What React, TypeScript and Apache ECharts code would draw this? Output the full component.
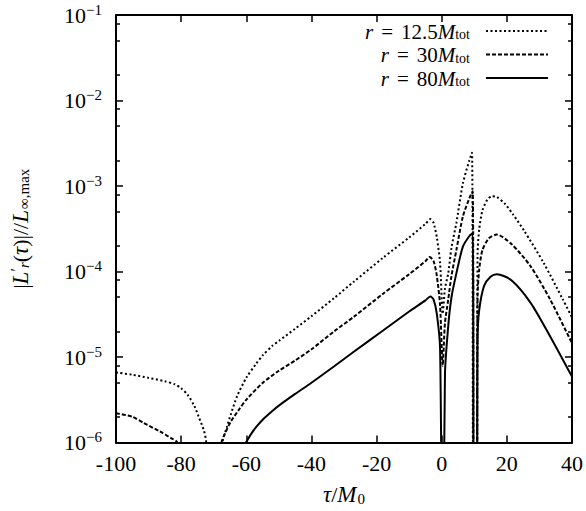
import React, { useEffect, useRef } from 'react';
import * as echarts from 'echarts';

// r = 12.5 M_tot (dotted)
const tau125 = [-100, -95, -90, -85, -82, -80, -78, -76, -74.5, -73, -72.3, -70, -67.3, -66, -64.8, -62.8, -59.9, -57, -54.9, -52, -49.9, -45, -40, -33, -27, -18, -10, -5, -3.5, -2.5, -1.5, -0.5, 0.3, 1, 2, 3, 4.5, 6.5, 8.5, 9.3, 9.8, 10.7, 11, 11.5, 12.5, 14, 15.4, 17, 19.4, 22, 25.3, 31.3, 37.2, 40];
const val125 = [6.6e-6, 6.2e-6, 5.7e-6, 5.2e-6, 4.8e-6, 4.3e-6, 3.6e-6, 2.7e-6, 1.95e-6, 1.38e-6, 1.0e-6, 1e-8, 1.0e-6, 1.5e-6, 2.1e-6, 3.5e-6, 5.8e-6, 8.3e-6, 1.05e-5, 1.35e-5, 1.55e-5, 2.14e-5, 3.0e-5, 4.9e-5, 7.6e-5, 1.45e-4, 2.5e-4, 3.6e-4, 4.1e-4, 3.7e-4, 2.5e-4, 1.26e-4, 3.2e-5, 6.3e-5, 9.5e-5, 1.9e-4, 3.7e-4, 1.07e-3, 2.0e-3, 2.45e-3, 1e-8, 1e-8, 1.6e-4, 3.1e-4, 5.2e-4, 6.9e-4, 7.6e-4, 7.4e-4, 6.2e-4, 4.6e-4, 3.0e-4, 1.26e-4, 4.7e-5, 2.9e-5];

// r = 30 M_tot (dashed)
const tau30 = [-100, -95, -91.6, -86.6, -83, -81.2, -75, -67.6, -66, -64.8, -62, -59.9, -54.9, -50, -45, -40, -33, -27, -18, -10, -5, -3.7, -2.5, -1.5, -0.5, 0.3, 1, 2, 3, 4.5, 6.5, 8.5, 9.5, 9.9, 10.7, 11, 11.5, 12.5, 14.5, 16.9, 21.4, 27.3, 33.3, 40];
const val30 = [2.2e-6, 2.0e-6, 1.7e-6, 1.35e-6, 1.12e-6, 1.0e-6, 1e-8, 1.0e-6, 1.41e-6, 1.74e-6, 2.5e-6, 3.2e-6, 5.0e-6, 6.9e-6, 9.1e-6, 1.23e-5, 2.0e-5, 2.95e-5, 5.5e-5, 9.3e-5, 1.32e-4, 1.48e-4, 1.32e-4, 8.9e-5, 4.0e-5, 7.9e-6, 2.5e-5, 4.7e-5, 8.9e-5, 1.78e-4, 4.4e-4, 7.2e-4, 8.7e-4, 1e-8, 1e-8, 5e-5, 1.05e-4, 1.78e-4, 2.45e-4, 2.7e-4, 2.1e-4, 1.15e-4, 4.7e-5, 1.45e-5];

// r = 80 M_tot (solid)
const tau80 = [-60.1, -58.5, -57, -54.9, -52, -50, -45, -40, -33, -27, -18, -10, -5, -3.5, -2.5, -1.5, -0.5, 0.3, 1, 2, 3, 4.5, 6.5, 8.5, 9.5, 9.9, 10.7, 11, 11.5, 13, 15, 16.9, 21.4, 27.3, 33.3, 40];
const val80 = [1.0e-6, 1.26e-6, 1.51e-6, 1.86e-6, 2.34e-6, 2.7e-6, 3.7e-6, 5.0e-6, 7.8e-6, 1.15e-5, 2.04e-5, 3.4e-5, 4.6e-5, 5.1e-5, 4.7e-5, 3.2e-5, 1.26e-5, 1e-8, 6.3e-6, 2.3e-5, 5.0e-5, 9.5e-5, 1.95e-4, 2.6e-4, 2.8e-4, 1e-8, 1e-8, 1.6e-5, 3.5e-5, 6.8e-5, 8.7e-5, 9.3e-5, 7.9e-5, 4.3e-5, 1.74e-5, 5.9e-6];

const legendNames = ['12.5', '30', '80'];
const minorMantissa = [2, 5, 8];
const decades = [-6, -5, -4, -3, -2];

const FONT = 'Liberation Serif';

const App: React.FC = () => {
  const chartRef = useRef<HTMLDivElement>(null);

  useEffect(() => {
    document.body.style.margin = '0';
    const chart = echarts.init(chartRef.current!, null, { renderer: 'svg' });

    const pairs = (t: number[], v: number[]) => t.map((x, i) => [x, v[i]]);
    const minorLogs: number[] = [];
    decades.forEach((d) => minorMantissa.forEach((m) => minorLogs.push(d + Math.log10(m))));

    const txt = {
      n: { fontFamily: FONT, fontSize: 22, lineHeight: 20, color: '#000' },
      i: { fontFamily: FONT, fontSize: 23, lineHeight: 20, fontStyle: 'italic', color: '#000' },
      sub: { fontFamily: FONT, fontSize: 15, lineHeight: 10, color: '#000', padding: [8, 0, 0, 1] },
      subi: { fontFamily: FONT, fontSize: 15, lineHeight: 10, fontStyle: 'italic', color: '#000', padding: [8, 0, 0, 0] },
      sup: { fontFamily: FONT, fontSize: 16, lineHeight: 10, color: '#000', padding: [0, 0, 8, 0] },
    };
    // legend text, a little smaller so the rows do not touch
    const legTxt = {
      n: { fontFamily: FONT, fontSize: 21, lineHeight: 18, color: '#000' },
      eq: { fontFamily: FONT, fontSize: 21, lineHeight: 18, color: '#000', padding: [0, 8, 0, 8] },
      i: { fontFamily: FONT, fontSize: 21, lineHeight: 18, fontStyle: 'italic', color: '#000' },
      sub: { fontFamily: FONT, fontSize: 14, lineHeight: 10, color: '#000', padding: [6, 0, 0, 0] },
    };

    const tickStyle = { color: '#000', width: 1.5 };
    const lineStyles = [
      { type: [2, 2.5], width: 2 },
      { type: [4, 2], width: 2 },
      { type: 'solid', width: 2 },
    ];
    const legendDash = [[2, 2.5], [4, 2], []];
    const legendY = [31, 54.5, 78];

    const option = {
      animation: false,
      grid: { left: 105, right: 10, top: 15, bottom: 68 },
      xAxis: [
        {
          type: 'value', min: -100, max: 40, interval: 20,
          axisLine: { onZero: false, lineStyle: { color: '#000', width: 2 } },
          axisTick: { inside: true, length: 7, lineStyle: tickStyle },
          axisLabel: { color: '#000', fontFamily: FONT, fontSize: 22, margin: 10 },
          splitLine: { show: false },
          name: '{i|τ}{n|/}{i|M}{sub|0}',
          nameLocation: 'middle', nameGap: 42,
          nameTextStyle: { rich: txt },
        },
        {
          type: 'value', min: -100, max: 40, interval: 20, position: 'top',
          axisLine: { onZero: false, lineStyle: { color: '#000', width: 2 } },
          axisTick: { inside: true, length: 7, lineStyle: tickStyle },
          axisLabel: { show: false },
          splitLine: { show: false },
        },
      ],
      yAxis: [
        {
          type: 'log', min: 1e-6, max: 1e-1, logBase: 10,
          axisLine: { show: true, onZero: false, lineStyle: { color: '#000', width: 2 } },
          axisTick: { show: true, inside: true, length: 7, lineStyle: tickStyle },
          axisLabel: {
            margin: 14,
            formatter: (v: number) => `{b|10}{e|${String(Math.round(Math.log10(v))).replace('-', '−')}}`,
            rich: {
              b: { fontFamily: FONT, fontSize: 22, color: '#000' },
              e: { fontFamily: FONT, fontSize: 15, color: '#000', padding: [0, 0, 11, 0] },
            },
          },
          splitLine: { show: false },
          name: '{n||}{i|L}{sup|′}{subi|r}{n|(}{i|τ}{n|)|//}{i|L}{sub|∞,max}',
          nameLocation: 'middle', nameGap: 86,
          nameTextStyle: { rich: txt },
        },
        {
          type: 'log', min: 1e-6, max: 1e-1, logBase: 10, position: 'right',
          axisLine: { show: true, onZero: false, lineStyle: { color: '#000', width: 2 } },
          axisTick: { show: true, inside: true, length: 7, lineStyle: tickStyle },
          axisLabel: { show: false },
          splitLine: { show: false },
        },
        {
          type: 'value', min: -6, max: -1, position: 'left',
          axisLine: { show: false, onZero: false },
          axisTick: { show: true, inside: true, length: 4, lineStyle: tickStyle, customValues: minorLogs },
          axisLabel: { show: false },
          splitLine: { show: false },
        },
        {
          type: 'value', min: -6, max: -1, position: 'right',
          axisLine: { show: false, onZero: false },
          axisTick: { show: true, inside: true, length: 4, lineStyle: tickStyle, customValues: minorLogs },
          axisLabel: { show: false },
          splitLine: { show: false },
        },
      ],
      series: [
        { name: 'r125', type: 'line', data: pairs(tau125, val125) },
        { name: 'r30', type: 'line', data: pairs(tau30, val30) },
        { name: 'r80', type: 'line', data: pairs(tau80, val80) },
      ].map((s, i) => ({
        ...s,
        showSymbol: false,
        symbol: 'none',
        clip: true,
        smooth: 0.25,
        lineStyle: { color: '#000', ...lineStyles[i] },
      })),
      graphic: legendNames.flatMap((r, i) => [
        {
          type: 'text',
          right: 116,
          top: legendY[i] - 10,
          style: {
            text: `{i|r}{eq|=}{n|${r}}{i|M}{sub|tot}`,
            rich: legTxt,
            align: 'right',
          },
        },
        {
          type: 'line',
          shape: { x1: 486, y1: legendY[i], x2: 548, y2: legendY[i] },
          style: { stroke: '#000', lineWidth: 2, lineDash: legendDash[i] },
        },
      ]),
    };

    chart.setOption(option as any);
    return () => chart.dispose();
  }, []);

  return <div ref={chartRef} style={{ width: 586, height: 511 }} />;
};

export default App;
